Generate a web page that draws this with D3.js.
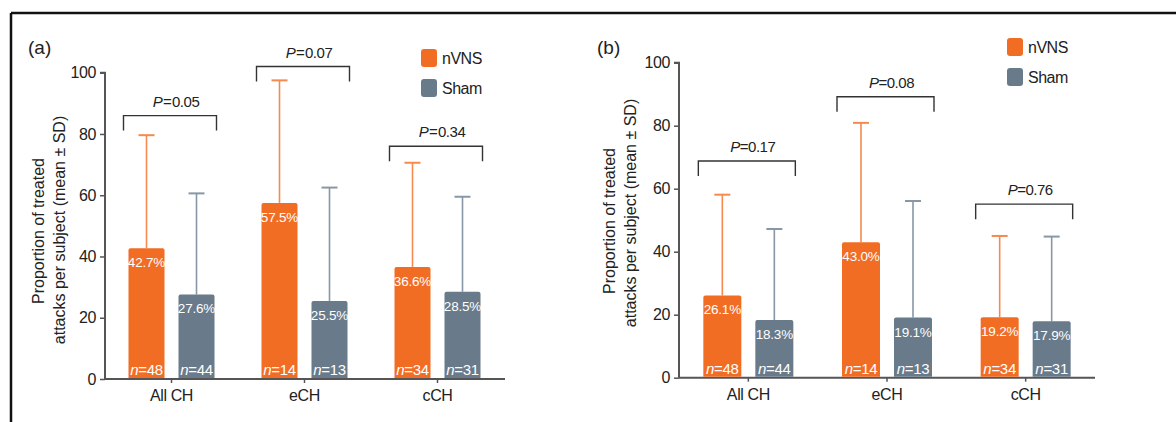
<!DOCTYPE html>
<html>
<head>
<meta charset="utf-8">
<script src="https://cdn.jsdelivr.net/npm/d3@7"></script>
<style>
  body { margin: 0; background: #fff; }
  svg { font-family: "Liberation Sans", Arial, sans-serif; }
</style>
</head>
<body>
<svg id="chart" width="1176" height="422"></svg>
<script>
// --- Data ---
const categories = ["All CH", "eCH", "cCH"];
const seriesNames = ["nVNS", "Sham"];
const yTicks = [0, 20, 40, 60, 80, 100];

// panel (a)
const aNvns = [42.7, 57.5, 36.6];
const aSham = [27.6, 25.5, 28.5];
const aNvnsSd = [36.9, 40.0, 34.0];
const aShamSd = [33.0, 37.0, 31.0];
const aNvnsN = [48, 14, 34];
const aShamN = [44, 13, 31];
const aPvals = ["0.05", "0.07", "0.34"];
const aBracket = [86, 102, 76];

// panel (b)
const bNvns = [26.1, 43.0, 19.2];
const bSham = [18.3, 19.1, 17.9];
const bNvnsSd = [32.0, 37.9, 25.8];
const bShamSd = [28.9, 37.0, 26.9];
const bNvnsN = [48, 14, 34];
const bShamN = [44, 13, 31];
const bPvals = ["0.17", "0.08", "0.76"];
const bBracket = [68.8, 89.2, 55.1];

const colors = { nVNS: "#F26D24", Sham: "#697A8B" };
const errColors = { nVNS: "#F58A4E", Sham: "#8797A6" };

const svg = d3.select("#chart");

// outer frame (top + left rule)
svg.append("line").attr("x1", 11).attr("x2", 1176).attr("y1", 13).attr("y2", 13)
  .attr("stroke", "#111").attr("stroke-width", 2.5);
svg.append("line").attr("x1", 11).attr("x2", 11).attr("y1", 13).attr("y2", 422)
  .attr("stroke", "#111").attr("stroke-width", 2.5);

function drawPanel(p) {
  const g = svg.append("g");
  const x = d3.scaleBand().domain(categories).range([p.x0, p.x1]).padding(0);
  const y = d3.scaleLinear().domain([0, 100]).range([p.y0, p.y1]);
  const cx = c => x(c) + x.bandwidth() / 2;

  // y axis
  const yAxis = g.append("g").attr("transform", `translate(${p.x0},0)`)
    .call(d3.axisLeft(y).tickValues(yTicks).tickSize(5).tickPadding(4));
  // x axis
  const xAxis = g.append("g").attr("transform", `translate(0,${p.y0})`)
    .call(d3.axisBottom(x).tickSize(4).tickPadding(7));
  [yAxis, xAxis].forEach(a => {
    a.select(".domain").attr("stroke", "#555").attr("stroke-width", 2);
    a.selectAll(".tick line").attr("stroke", "#555").attr("stroke-width", 1.5);
    a.selectAll(".tick text").attr("fill", "#222").style("font-size", "16px")
      .style("letter-spacing", "-0.4px");
  });
  yAxis.select(".domain").attr("d", `M-5,${p.y1}H0V${p.y0}`);
  xAxis.select(".domain").attr("d", `M${p.x0},0H${p.xEnd}`);

  // bars
  const series = [
    { name: "nVNS", vals: p.nvns, sd: p.nvnsSd, n: p.nvnsN, off: -p.off },
    { name: "Sham", vals: p.sham, sd: p.shamSd, n: p.shamN, off: p.off }
  ];
  series.forEach(s => {
    categories.forEach((c, i) => {
      const bx = cx(c) + s.off;
      const top = y(s.vals[i]);
      const et = y(s.vals[i] + s.sd[i]);
      g.append("line").attr("x1", bx).attr("x2", bx).attr("y1", top).attr("y2", et)
        .attr("stroke", errColors[s.name]).attr("stroke-width", 1.6);
      g.append("line").attr("x1", bx - 8).attr("x2", bx + 8).attr("y1", et).attr("y2", et)
        .attr("stroke", errColors[s.name]).attr("stroke-width", 2);
      g.append("path")
        .attr("d", `M${bx - p.bw / 2},${p.y0 - 1}V${top + 2}Q${bx - p.bw / 2},${top} ${bx - p.bw / 2 + 2},${top}H${bx + p.bw / 2 - 2}Q${bx + p.bw / 2},${top} ${bx + p.bw / 2},${top + 2}V${p.y0 - 1}Z`)
        .attr("fill", colors[s.name]);
      g.append("text").attr("x", bx).attr("y", top + 19).attr("text-anchor", "middle")
        .attr("fill", "#fff").style("font-size", "13.5px").style("letter-spacing", "-0.2px")
        .text(s.vals[i].toFixed(1) + "%");
      const nt = g.append("text").attr("x", bx).attr("y", p.y0 - 4).attr("text-anchor", "middle")
        .attr("fill", "#fff").style("font-size", "15px").style("letter-spacing", "-0.3px");
      nt.append("tspan").style("font-style", "italic").text("n");
      nt.append("tspan").text("=" + s.n[i]);
    });
  });

  // significance brackets
  categories.forEach((c, i) => {
    const by = y(p.bracket[i]);
    const l = cx(c) - p.bl, r = cx(c) + p.br;
    g.append("path").attr("d", `M${l},${by + 15}V${by}H${r}V${by + 15}`)
      .attr("fill", "none").attr("stroke", "#333").attr("stroke-width", 1.4);
    const t = g.append("text").attr("x", (l + r) / 2 + 6).attr("y", by - 9)
      .attr("text-anchor", "middle").attr("fill", "#222").style("font-size", "15px")
      .style("letter-spacing", "-0.5px");
    t.append("tspan").style("font-style", "italic").text("P");
    t.append("tspan").text(p.eq + p.pvals[i]);
  });

  // y title
  const tx = p.titleX;
  [["Proportion of treated", 0], ["attacks per subject (mean \u00B1 SD)", 20.5]].forEach((ln, k) => {
    g.append("text").attr("transform", `translate(${tx + ln[1]},${p.titleY[k]}) rotate(-90)`)
      .attr("text-anchor", "middle").attr("fill", "#222").style("font-size", "16px")
      .text(ln[0]);
  });

  // panel label
  g.append("text").attr("x", p.labelX).attr("y", 54).attr("fill", "#222")
    .style("font-size", "19px").text(p.label);

  // legend
  seriesNames.forEach((s, i) => {
    const ly = p.legY + i * 30;
    g.append("rect").attr("x", p.legX).attr("y", ly).attr("width", 16).attr("height", 18)
      .attr("rx", 3).attr("fill", colors[s]);
    g.append("text").attr("x", p.legX + 21).attr("y", ly + 15).attr("fill", "#222")
      .style("font-size", "16px").style("letter-spacing", "-0.5px").text(s);
  });
}

drawPanel({
  label: "(a)", labelX: 28, x0: 105, x1: 504, xEnd: 505, y0: 379, y1: 72.7,
  off: 25, bw: 36, bl: 48, br: 45, eq: "\u200A=\u200A", titleX: 44, titleY: [231, 230],
  nvns: aNvns, sham: aSham, nvnsSd: aNvnsSd, shamSd: aShamSd, nvnsN: aNvnsN, shamN: aShamN,
  pvals: aPvals, bracket: aBracket, legX: 421, legY: 49
});

drawPanel({
  label: "(b)", labelX: 597, x0: 679, x1: 1095, xEnd: 1095, y0: 377.7, y1: 62.7,
  off: 26, bw: 38, bl: 50, br: 47, eq: "=", titleX: 615, titleY: [221, 213],
  nvns: bNvns, sham: bSham, nvnsSd: bNvnsSd, shamSd: bShamSd, nvnsN: bNvnsN, shamN: bShamN,
  pvals: bPvals, bracket: bBracket, legX: 1007, legY: 38
});
</script>
</body>
</html>
